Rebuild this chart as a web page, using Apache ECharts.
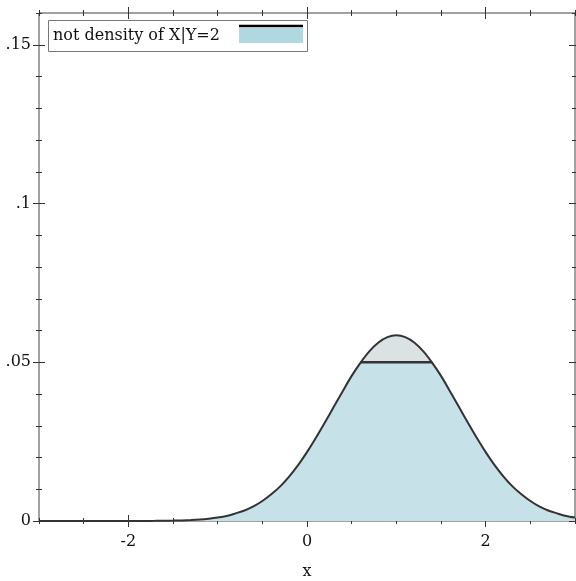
<!DOCTYPE html>
<html>
<head>
<meta charset="utf-8">
<script src="https://cdn.jsdelivr.net/npm/echarts@6/dist/echarts.min.js"></script>
<style>html,body{margin:0;padding:0;background:#fff}#c{width:576px;height:581px}</style>
</head>
<body>
<div id="c"></div>
<script>
// x positions (step 0.1) and the curve values
const xs = [-3.0,-2.9,-2.8,-2.7,-2.6,-2.5,-2.4,-2.3,-2.2,-2.1,-2.0,-1.9,-1.8,-1.7,-1.6,-1.5,-1.4,-1.3,-1.2,-1.1,-1.0,-0.9,-0.8,-0.7,-0.6,-0.5,-0.4,-0.3,-0.2,-0.1,0.0,0.1,0.2,0.3,0.4,0.5,0.6,0.7,0.8,0.9,1.0,1.1,1.2,1.3,1.4,1.5,1.6,1.7,1.8,1.9,2.0,2.1,2.2,2.3,2.4,2.5,2.6,2.7,2.8,2.9,3.0];
const density = [0,0,0,0,0,0,0,0,0,0,0.00001,0.00001,0.00002,0.00004,0.00007,0.00012,0.00019,0.00031,0.00048,0.00074,0.0011,0.0016,0.0024,0.0033,0.0046,0.0063,0.0084,0.0109,0.0140,0.0176,0.0217,0.0262,0.0310,0.0360,0.0409,0.0457,0.0499,0.0535,0.0562,0.0579,0.0585,0.0579,0.0562,0.0535,0.0499,0.0457,0.0409,0.0360,0.0310,0.0262,0.0217,0.0176,0.0140,0.0109,0.0084,0.0063,0.0046,0.0033,0.0024,0.0016,0.0011];
const cutLevel = 0.05;
const cutFrom = 0.6, cutTo = 1.4;
const xMajorTicks = [-2, 0, 2];
const xMinorTicks = [-3,-2.5,-2,-1.5,-1,-0.5,0,0.5,1,1.5,2,2.5,3];
const yMajorTicks = [0, 0.05, 0.1, 0.15];
const yMinorTicks = [0,0.01,0.02,0.03,0.04,0.05,0.06,0.07,0.08,0.09,0.1,0.11,0.12,0.13,0.14,0.15,0.16];
const yTickText = {'0':'0','0.05':'.05','0.1':'.1','0.15':'.15'};
const legendText = 'not density of X|Y=2';

const curve = xs.map((x,i)=>[x, density[i]]);
const capped = xs.map((x,i)=>[x, Math.min(density[i], cutLevel)]);
const cutLine = [[cutFrom, cutLevel],[cutTo, cutLevel]];

const FONT = 'DejaVu Serif';
const FS = 16;
const TC = '#333';
function xa(pos, offset, ticks, len, extra){
  return Object.assign({type:'value', min:-3, max:3, position:pos, offset:offset, gridIndex:0,
    axisLine:{show:false, onZero:false}, splitLine:{show:false},
    axisTick:{show:true, inside:true, length:len, customValues:ticks, lineStyle:{color:TC, width:1}},
    axisLabel:{show:false}}, extra||{});
}
function ya(pos, offset, ticks, len, extra){
  return Object.assign({type:'value', min:0, max:0.16, position:pos, offset:offset, gridIndex:0,
    axisLine:{show:false, onZero:false}, splitLine:{show:false},
    axisTick:{show:true, inside:true, length:len, customValues:ticks, lineStyle:{color:TC, width:1}},
    axisLabel:{show:false}}, extra||{});
}

const chart = echarts.init(document.getElementById('c'), null, {renderer:'canvas'});
chart.setOption({
  animation:false,
  grid:{left:39, right:1, top:13, bottom:60, outerBoundsMode:'none', containLabel:false,
    show:true, borderColor:'#444', borderWidth:1, backgroundColor:'transparent'},
  xAxis:[
    {type:'value', min:-3, max:3, position:'bottom', gridIndex:0,
      axisLine:{show:false, onZero:false}, axisTick:{show:false}, splitLine:{show:false},
      axisLabel:{show:true, customValues:xMajorTicks, margin:13, fontFamily:FONT, fontSize:FS, color:'#111',
        formatter:v=>String(v)},
      name:'x', nameLocation:'middle', nameGap:43, nameTextStyle:{fontFamily:FONT, fontSize:FS, color:'#111'}},
    xa('bottom', 6, xMajorTicks, 12),
    xa('bottom', 3, xMinorTicks, 6),
    xa('top', 6, xMajorTicks, 12),
    xa('top', 3, xMinorTicks, 6)
  ],
  yAxis:[
    {type:'value', min:0, max:0.16, position:'left', gridIndex:0,
      axisLine:{show:false, onZero:false}, axisTick:{show:false}, splitLine:{show:false},
      axisLabel:{show:true, customValues:yMajorTicks, margin:8, fontFamily:FONT, fontSize:FS, color:'#111',
        formatter:v=>{const k=String(Math.round(v*100)/100); return yTickText[k]!==undefined?yTickText[k]:k;}}},
    ya('left', 6, yMajorTicks, 12),
    ya('left', 3, yMinorTicks, 6),
    ya('right', 6, yMajorTicks, 12),
    ya('right', 3, yMinorTicks, 6)
  ],
  series:[
    {type:'line', data:curve, xAxisIndex:0, yAxisIndex:0, symbol:'none', smooth:0.3,
      lineStyle:{width:0}, areaStyle:{color:'#dbe2e4', opacity:1}, z:1},
    {type:'line', data:capped, xAxisIndex:0, yAxisIndex:0, symbol:'none', smooth:0.3,
      lineStyle:{width:0}, areaStyle:{color:'#c7e1e8', opacity:1}, z:2},
    {type:'line', data:curve, xAxisIndex:0, yAxisIndex:0, symbol:'none', smooth:0.3,
      lineStyle:{width:2, color:'#333'}, z:4},
    {type:'line', data:cutLine, xAxisIndex:0, yAxisIndex:0, symbol:'none',
      lineStyle:{width:2.5, color:'#333'}, z:5}
  ],
  graphic:[
    {type:'rect', shape:{x:48.5, y:20.5, width:259, height:31}, style:{fill:'#fff', stroke:'#777', lineWidth:1}, z:100},
    {type:'text', x:53, y:36, style:{text:legendText, font:FS+'px "DejaVu Serif"', fill:'#111', textVerticalAlign:'middle'}, z:101},
    {type:'rect', shape:{x:239, y:28, width:64, height:15}, style:{fill:'#b0d8e1'}, z:101},
    {type:'line', shape:{x1:239, y1:26, x2:303, y2:26}, style:{stroke:'#000', lineWidth:2.5}, z:102}
  ]
});
</script>
</body>
</html>
